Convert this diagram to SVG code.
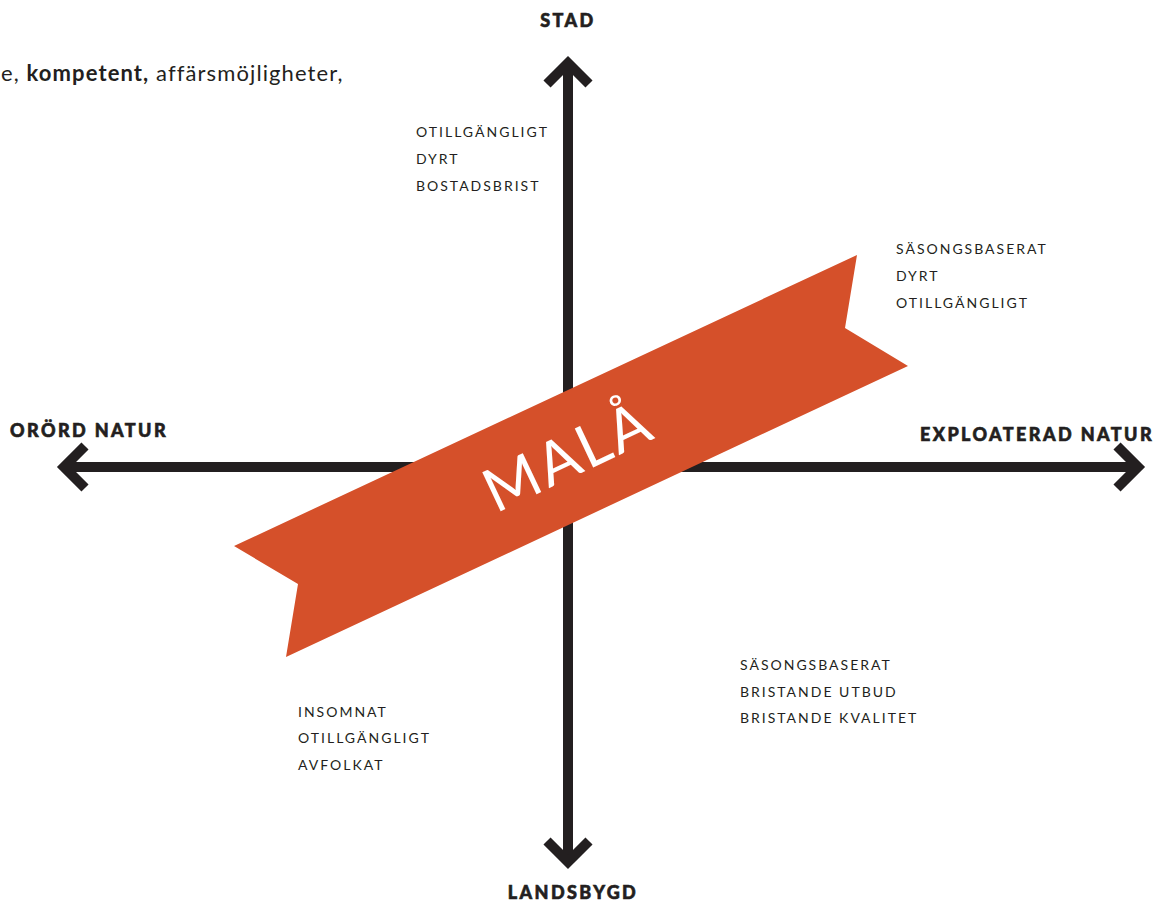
<svg xmlns="http://www.w3.org/2000/svg" width="1168" height="902" viewBox="0 0 1168 902">
<style>
.ax{fill:none;stroke:#231f20;stroke-width:10;stroke-linejoin:miter;stroke-linecap:butt}
.axl{font-family:Lato,"Liberation Sans",sans-serif;font-weight:900;font-size:18px;fill:#231f20;stroke:#231f20;stroke-width:0.6px;letter-spacing:2.4px}
.q{font-family:Lato,"Liberation Sans",sans-serif;font-size:14px;fill:#231f20;letter-spacing:2px}
.intro{font-family:Lato,"Liberation Sans",sans-serif;font-size:22px;fill:#231f20;letter-spacing:1.1px}
</style>
<rect width="1168" height="902" fill="#fff"/>
<g id="connectors">
<path class="ax" d="M568 63V862"/>
<path class="ax" d="M547 84L568 63L589 84"/>
<path class="ax" d="M547 841L568 862L589 841"/>
<path class="ax" d="M64 467H1138"/>
<path class="ax" d="M85 446L64 467L85 488"/>
<path class="ax" d="M1117 446L1138 467L1117 488"/>
</g>
<g id="intro"><text class="intro" x="1" y="81">e, <tspan font-weight="700">kompetent,</tspan> affärsmöjligheter,</text></g>
<g id="stad"><text class="axl" x="568" y="27" text-anchor="middle">STAD</text></g>
<g id="landsbygd"><text class="axl" x="573" y="899" text-anchor="middle">LANDSBYGD</text></g>
<g id="orord"><text class="axl" x="10" y="437">ORÖRD NATUR</text></g>
<g id="exploaterad"><text class="axl" x="1154" y="441" text-anchor="end">EXPLOATERAD NATUR</text></g>
<g id="q-top-left"><text class="q" x="416" y="137">OTILLGÄNGLIGT</text><text class="q" x="416" y="164">DYRT</text><text class="q" x="416" y="191">BOSTADSBRIST</text></g>
<g id="q-top-right"><text class="q" x="896" y="254">SÄSONGSBASERAT</text><text class="q" x="896" y="281">DYRT</text><text class="q" x="896" y="308">OTILLGÄNGLIGT</text></g>
<g id="q-bottom-right"><text class="q" x="740" y="670">SÄSONGSBASERAT</text><text class="q" x="740" y="697">BRISTANDE UTBUD</text><text class="q" x="740" y="723">BRISTANDE KVALITET</text></g>
<g id="q-bottom-left"><text class="q" x="298" y="717">INSOMNAT</text><text class="q" x="298" y="743">OTILLGÄNGLIGT</text><text class="q" x="298" y="770">AVFOLKAT</text></g>
<g id="mala">
<polygon points="234,546 857,255 845,328 908,366 286,657 298,584" fill="#d5502a"/>
<text transform="translate(568,456) rotate(-25.3)" x="0" y="21" text-anchor="middle" font-family="Lato,'Liberation Sans',sans-serif" font-weight="400" font-size="60" letter-spacing="3" fill="#fff">MALÅ</text>
</g>
</svg>
